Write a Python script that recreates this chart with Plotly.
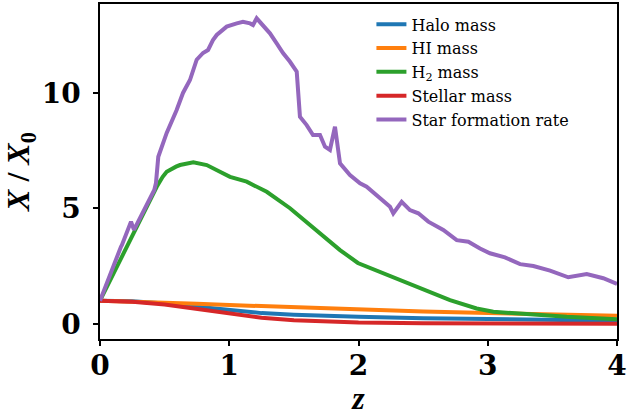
import plotly.graph_objects as go

# ---- data ----
z_sfr = [0.0, 0.08, 0.162, 0.170, 0.240, 0.263, 0.420, 0.433, 0.446, 0.451, 0.516, 0.593, 0.642,
         0.696, 0.748, 0.797, 0.836, 0.874, 0.903, 0.980, 1.058, 1.106, 1.161, 1.184, 1.212,
         1.261, 1.315, 1.367, 1.416, 1.470, 1.522, 1.547, 1.599, 1.648, 1.702, 1.741, 1.779,
         1.818, 1.857, 1.934, 2.012, 2.063, 2.166, 2.244, 2.269, 2.334, 2.398, 2.463, 2.540,
         2.656, 2.760, 2.850, 2.940, 3.017, 3.133, 3.250, 3.353, 3.482, 3.623, 3.766, 3.894, 4.0]
sfr = [1.0, 2.2, 3.33, 3.41, 4.42, 4.06, 5.79, 6.09, 6.96, 7.23, 8.26, 9.25, 9.99,
       10.55, 11.43, 11.72, 11.85, 12.28, 12.5, 12.86, 13.0, 13.07, 13.0, 12.93, 13.22,
       12.93, 12.57, 12.14, 11.72, 11.34, 10.91, 8.96, 8.60, 8.17, 8.17, 7.66, 7.52,
       8.53, 6.94, 6.44, 6.08, 5.93, 5.43, 5.06, 4.78, 5.28, 4.92, 4.78, 4.42,
       4.06, 3.62, 3.55, 3.26, 3.05, 2.87, 2.58, 2.50, 2.30, 2.01, 2.15, 1.97, 1.72]

z_h2 = [0.0, 0.420, 0.439, 0.485, 0.516, 0.588, 0.619, 0.722, 0.826, 0.928, 1.006, 1.135,
        1.290, 1.470, 1.677, 1.857, 1.995, 2.192, 2.450, 2.708, 2.914, 3.043, 3.301, 3.611, 4.0]
h2 = [1.0, 5.79, 5.93, 6.36, 6.58, 6.80, 6.87, 6.99, 6.87, 6.58, 6.36, 6.15,
      5.71, 5.00, 4.06, 3.19, 2.63, 2.18, 1.58, 1.02, 0.66, 0.52, 0.42, 0.30, 0.20]

z_grid = [0.0, 0.25, 0.5, 0.75, 1.0, 1.25, 1.5, 1.75, 2.0, 2.5, 3.0, 3.5, 4.0]
halo = [1.0, 0.97, 0.88, 0.73, 0.57, 0.46, 0.39, 0.34, 0.30, 0.24, 0.20, 0.16, 0.13]
hi = [1.0, 0.97, 0.92, 0.87, 0.81, 0.76, 0.71, 0.66, 0.61, 0.53, 0.46, 0.40, 0.35]
stellar = [1.0, 0.95, 0.83, 0.63, 0.42, 0.26, 0.15, 0.09, 0.05, 0.02, 0.01, 0.005, 0.0]

names = ["Halo mass", "HI mass", "H<sub>2</sub> mass", "Stellar mass", "Star formation rate"]
colors = ["#1f77b4", "#ff7f0e", "#2ca02c", "#d62728", "#9467bd"]
xs = [z_grid, z_grid, z_h2, z_grid, z_sfr]
ys = [halo, hi, h2, stellar, sfr]

fig = go.Figure()
for n, c, x, y in zip(names, colors, xs, ys):
    fig.add_trace(go.Scatter(x=x, y=y, mode="lines", name=n,
                             line=dict(color=c, width=4)))

tickfont = dict(family="DejaVu Serif", size=28, color="black")
fig.update_layout(
    width=628, height=416,
    margin=dict(l=100, r=11, t=4, b=77),
    plot_bgcolor="white", paper_bgcolor="white",
    font=dict(family="Liberation Serif", color="black"),
    showlegend=True,
    legend=dict(x=0.525, y=0.99, xanchor="left", yanchor="top",
                bgcolor="rgba(255,255,255,0)", borderwidth=0,
                font=dict(family="DejaVu Serif", size=16, color="black"),
                tracegroupgap=0, itemwidth=30),
    xaxis=dict(range=[0, 4], tickvals=[0, 1, 2, 3, 4],
               ticktext=["<b>0</b>", "<b>1</b>", "<b>2</b>", "<b>3</b>", "<b>4</b>"],
               showgrid=False, zeroline=False, showline=True, linecolor="black",
               linewidth=1.5, mirror=True, ticks="outside", ticklen=5, tickwidth=1.5,
               tickcolor="black", tickfont=tickfont, ticklabelstandoff=-4,
               automargin=False,
               title=dict(text="<b><i>z</i></b>", font=dict(family="Liberation Serif", size=32),
                          standoff=9)),
    yaxis=dict(range=[-0.66, 13.84], tickvals=[0, 5, 10],
               ticktext=["<b>0</b>", "<b>5</b>", "<b>10</b>"],
               showgrid=False, zeroline=False, showline=True, linecolor="black",
               linewidth=1.5, mirror=True, ticks="outside", ticklen=5, tickwidth=1.5,
               tickcolor="black", tickfont=tickfont, ticklabelstandoff=7,
               automargin=False,
               title=dict(text="<b><i>X</i> / <i>X</i><sub>0</sub></b>",
                          font=dict(family="Liberation Serif", size=32), standoff=4)),
)

fig.write_html("out.html")
